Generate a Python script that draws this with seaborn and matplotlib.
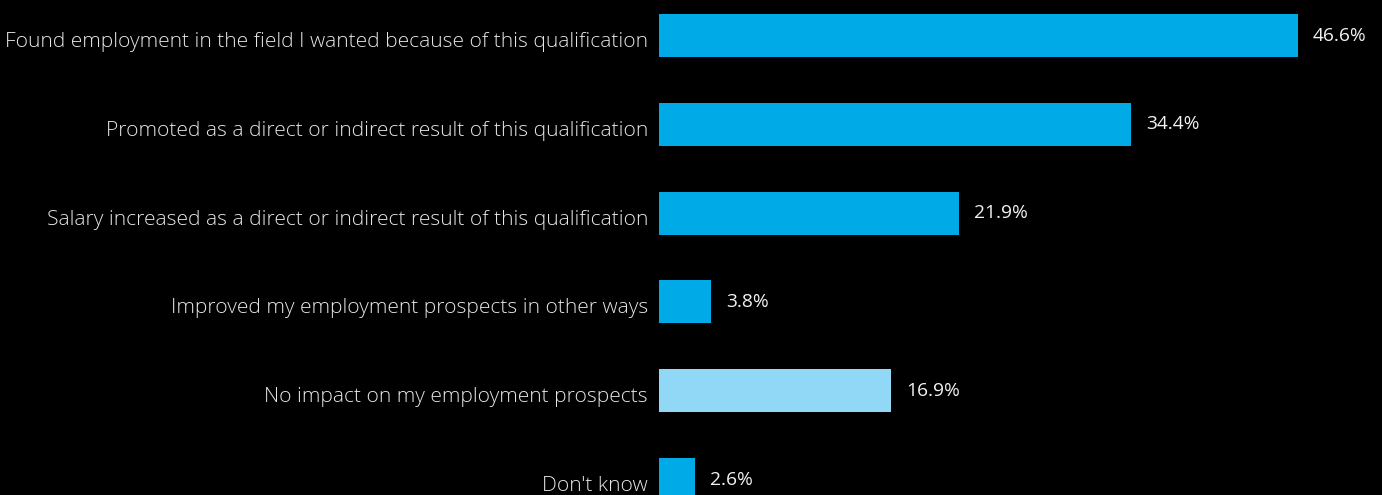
import matplotlib
matplotlib.use("Agg")
import matplotlib.pyplot as plt
import matplotlib.transforms as mtransforms
import seaborn as sns
import pandas as pd

categories = [
    "Found employment in the field I wanted because of this qualification",
    "Promoted as a direct or indirect result of this qualification",
    "Salary increased as a direct or indirect result of this qualification",
    "Improved my employment prospects in other ways",
    "No impact on my employment prospects",
    "Don't know",
]
values = [46.6, 34.4, 21.9, 3.8, 16.9, 2.6]
bar_colors = ["#00AAE7", "#00AAE7", "#00AAE7", "#00AAE7", "#90D8F5", "#00AAE7"]

sns.set_theme(style="white")
plt.rcParams["font.family"] = ["Open Sans", "DejaVu Sans"]

df = pd.DataFrame({"category": categories, "value": values})

fig = plt.figure(figsize=(13.82, 4.95), dpi=100, facecolor="black")
ax = fig.add_axes([0.4769, 0.0, 0.5231, 1.0])
ax.set_facecolor("black")

sns.barplot(data=df, x="value", y="category", hue="category",
            palette=bar_colors, legend=False, width=0.485,
            saturation=1, ax=ax, orient="h", linewidth=0, edgecolor="none")

ax.set_xlim(0, 52.73)
ax.set_ylim(5.174, -0.4)
ax.set_xlabel("")
ax.set_ylabel("")
ax.set_xticks([])
for s in ax.spines.values():
    s.set_visible(False)

ax.tick_params(axis="y", length=0, pad=7.9)
shift = mtransforms.ScaledTranslation(0, -4 / 100, fig.dpi_scale_trans)
for lbl in ax.get_yticklabels():
    lbl.set_color("#E6E6E6")
    lbl.set_fontsize(15.1)
    lbl.set_fontweight("light")
    lbl.set_transform(lbl.get_transform() + shift)

for cont in ax.containers:
    ax.bar_label(cont, fmt="%.1f%%", padding=10.8, color="#F2F2F2",
                 fontsize=13.8)

fig.savefig("out.png", dpi=100, facecolor="black")
